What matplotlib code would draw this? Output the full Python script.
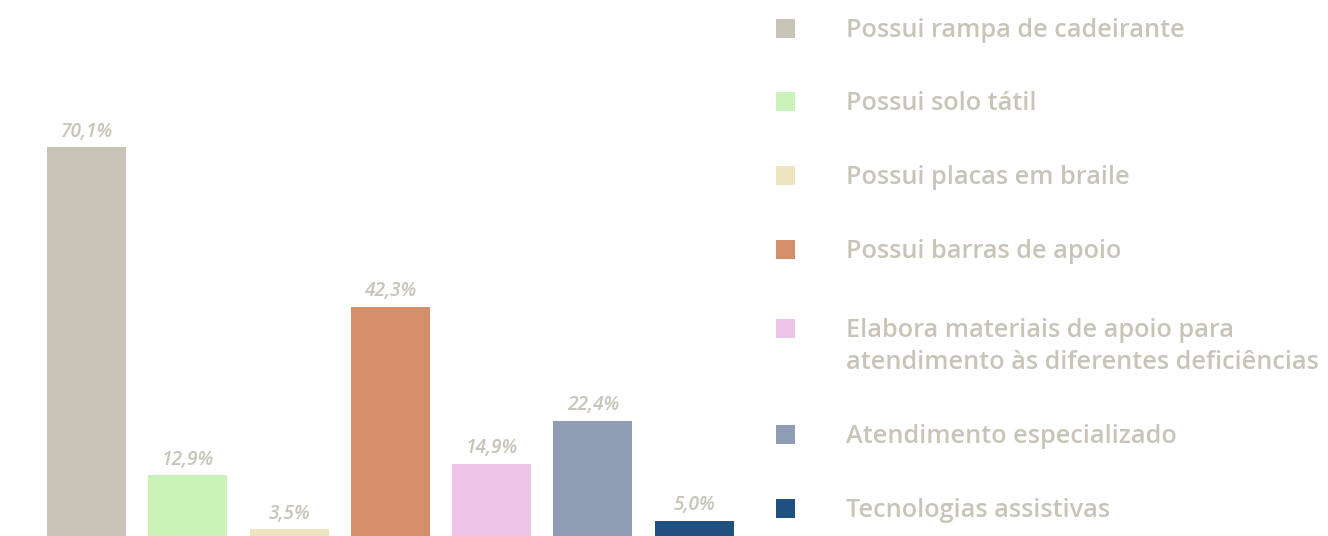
import matplotlib
matplotlib.use("Agg")
import matplotlib.pyplot as plt

categories = [
    "Possui rampa de cadeirante",
    "Possui solo tátil",
    "Possui placas em braile",
    "Possui barras de apoio",
    "Elabora materiais de apoio para\natendimento às diferentes deficiências",
    "Atendimento especializado",
    "Tecnologias assistivas",
]
values = [70.1, 12.9, 3.5, 42.3, 14.9, 22.4, 5.0]
value_labels = ["70,1%", "12,9%", "3,5%", "42,3%", "14,9%", "22,4%", "5,0%"]
colors = ["#c8c4b7", "#caf2b9", "#ede5c0", "#d38f6a", "#ecc4e8", "#8f9db4", "#1f5080"]

TEXT_COLOR = "#c8c4b8"
FONT = ["Open Sans", "DejaVu Sans"]

W, H, DPI = 1328, 536, 100
fig = plt.figure(figsize=(W / DPI, H / DPI), dpi=DPI)
fig.patch.set_facecolor("white")

# axes placement in pixels (baseline sits slightly below the figure edge)
zero_px = 549.5
ax = fig.add_axes([0, (H - zero_px) / H, 760 / W, zero_px / H])
px_per_unit = 5.74
ax.set_ylim(0, zero_px / px_per_unit)
spacing = 101.3
first_c = 86.5
ax.set_xlim(-first_c / spacing, (760 - first_c) / spacing)
ax.axis("off")

x = list(range(len(values)))
ax.bar(x, values, width=79 / spacing, color=colors, linewidth=0)

for xi, v, lab in zip(x, values, value_labels):
    ax.annotate(lab, (xi, v), xytext=(0, 7.6), textcoords="offset points",
                ha="center", va="baseline", fontsize=13.8, fontstyle="italic",
                fontweight="semibold", color=TEXT_COLOR, family=FONT)


def px_to_fig(px, py):
    return px / W, (H - py) / H


row_centers = [28.5, 101.3, 175.3, 249.3, 328.5, 434.5, 508.3]
sq_w, sq_h = 19, 18.5
line_gap = 32
for cy, c, lab in zip(row_centers, colors, categories):
    fx, fy = px_to_fig(776, cy + sq_h / 2)
    fig.patches.append(plt.Rectangle((fx, fy), sq_w / W, sq_h / H, transform=fig.transFigure,
                                     facecolor=c, edgecolor="none"))
    for i, line in enumerate(lab.split("\n")):
        tx, ty = px_to_fig(846, cy + 8.7 + i * line_gap)
        fig.text(tx, ty, line, ha="left", va="baseline", fontsize=18.2,
                 fontweight="semibold", color=TEXT_COLOR, family=FONT)

fig.savefig("out.png", dpi=DPI, facecolor="white")
